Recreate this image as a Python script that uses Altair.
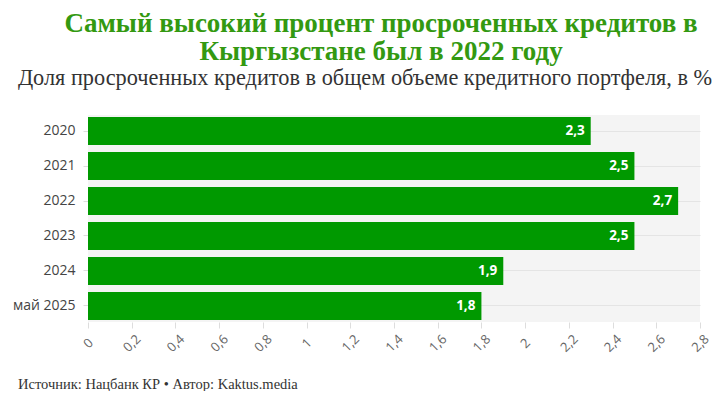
import altair as alt
import pandas as pd

categories = ["2020", "2021", "2022", "2023", "2024", "май 2025"]
values = [2.3, 2.5, 2.7, 2.5, 1.9, 1.8]
x_ticks = [0, 0.2, 0.4, 0.6, 0.8, 1.0, 1.2, 1.4, 1.6, 1.8, 2.0, 2.2, 2.4, 2.6, 2.8]

title_lines = ["Самый высокий процент просроченных кредитов в", "Кыргызстане был в 2022 году"]
subtitle = "Доля просроченных кредитов в общем объеме кредитного портфеля, в %"
footer = "Источник: Нацбанк КР • Автор: Kaktus.media"

df = pd.DataFrame({"cat": categories, "val": values})
df["label"] = [f"{v:.1f}".replace(".", ",") for v in values]

GREEN = "#009900"

y_enc = alt.Y("cat:N", sort=categories, title=None,
              scale=alt.Scale(paddingInner=0.2, paddingOuter=0.06),
              axis=alt.Axis(labelFont="Open Sans", labelFontSize=14, labelColor="#444",
                            tickColor="#dddddd", tickSize=5, domain=False, labelPadding=8,
                            grid=True, gridColor="#e4e4e4", gridWidth=1))
x_enc = alt.X("val:Q", title=None,
              scale=alt.Scale(domain=[0, 2.8], nice=False),
              axis=alt.Axis(values=x_ticks, grid=False, domain=False,
                            labelExpr="replace(format(datum.value, '.1~f'), '.', ',')",
                            labelAngle=-45, labelAlign="center", labelBaseline="middle",
                            labelFont="Open Sans", labelFontSize=13, labelColor="#666",
                            tickColor="#dddddd", tickSize=6, labelPadding=15))

bars = alt.Chart(df).mark_bar(color=GREEN).encode(y=y_enc, x=x_enc)

labels = alt.Chart(df).mark_text(align="right", dx=-6, color="white", font="Open Sans",
                                 fontWeight="bold", fontSize=13.5).encode(
    y=alt.Y("cat:N", sort=categories), x="val:Q", text="label:N")

sub = alt.Chart(pd.DataFrame({"t": [subtitle]})).mark_text(
    align="center", baseline="alphabetic", font="Liberation Serif", fontSize=22.3, color="#333"
).encode(text="t:N", x=alt.value(277), y=alt.value(-30))

foot = alt.Chart(pd.DataFrame({"t": [footer]})).mark_text(
    align="left", baseline="alphabetic", font="Liberation Serif", fontSize=14.5, color="#333"
).encode(text="t:N", x=alt.value(-70), y=alt.value(274))

chart = alt.layer(bars, labels, sub, foot).properties(
    width=612, height=207,
    autosize=alt.AutoSizeParams(type="none"),
    padding={"left": 80, "top": 107, "right": 13, "bottom": 69},
    title=alt.TitleParams(
        text=title_lines, anchor="middle", dx=-13, offset=1,
        font="Liberation Serif", fontSize=27, fontWeight="bold", color="#339911",
        lineHeight=28),
).configure_view(fill="#f4f4f4", stroke=None)

chart.save("out.html", embed_options={"renderer": "svg", "actions": False})
